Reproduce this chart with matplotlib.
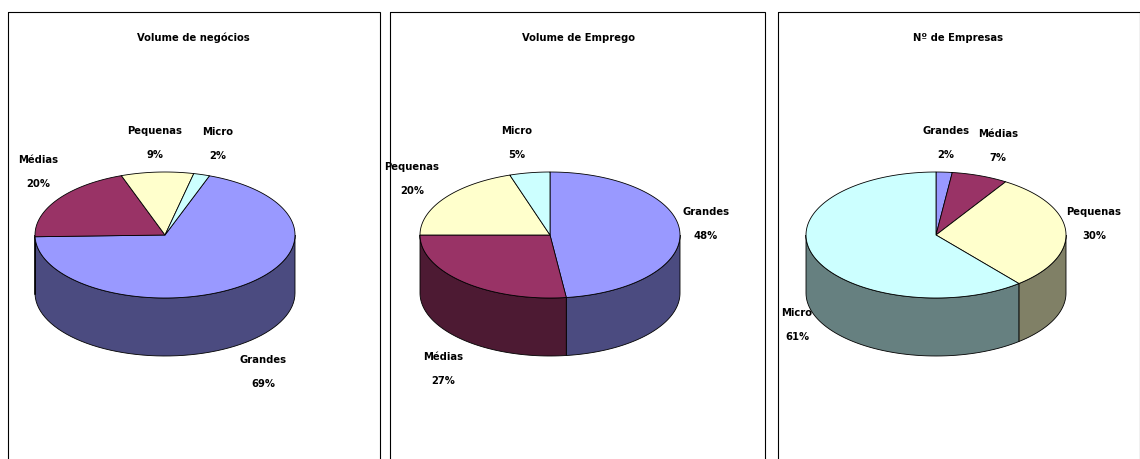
import numpy as np
import matplotlib.pyplot as plt
from matplotlib.patches import Polygon, Rectangle

titles = ['Volume de negócios', 'Volume de Emprego', 'Nº de Empresas']
categories = [['Grandes', 'Médias', 'Pequenas', 'Micro'],
              ['Grandes', 'Médias', 'Pequenas', 'Micro'],
              ['Grandes', 'Médias', 'Pequenas', 'Micro']]
values = [[69, 20, 9, 2],
          [48, 27, 20, 5],
          [2, 7, 30, 61]]
start_angles = [20, 0, 0]

top_col = {'Grandes': '#9999FF', 'Médias': '#993366', 'Pequenas': '#FFFFCC', 'Micro': '#CCFFFF'}
side_col = {'Grandes': '#4B4B80', 'Médias': '#4D1A33', 'Pequenas': '#808066', 'Micro': '#668080'}

boxes = [(8, 372), (390, 375), (778, 362)]
centers = [(165, 235), (550, 235), (936, 235)]
title_x = [193, 578, 958]
label_pos = [
    {'Grandes': (263, 360), 'Médias': (38, 160), 'Pequenas': (155, 131), 'Micro': (218, 132)},
    {'Grandes': (706, 212), 'Médias': (443, 357), 'Pequenas': (412, 167), 'Micro': (517, 131)},
    {'Grandes': (946, 131), 'Médias': (998, 134), 'Pequenas': (1094, 212), 'Micro': (797, 313)},
]
rx, ry, depth = 130, 63, 58

fig = plt.figure(figsize=(11.4, 4.59), dpi=100)
ax = fig.add_axes([0, 0, 1, 1])
ax.set_xlim(0, 1140)
ax.set_ylim(459, 0)
ax.axis('off')

font = dict(fontsize=8, fontweight='bold', fontstretch='condensed', family='DejaVu Sans')


def pt(cx, cy, a, dy=0):
    r = np.radians(a)
    return cx + rx * np.sin(r), cy - ry * np.cos(r) + dy


for i in range(3):
    x0, w = boxes[i]
    ax.add_patch(Rectangle((x0, 12), w, 470, fill=False, lw=0.8, ec='black'))
    ax.text(title_x[i], 38, titles[i], ha='center', va='center', **font)
    cx, cy = centers[i]
    a = start_angles[i]
    slices = []
    for cat, v in zip(categories[i], values[i]):
        a1 = a + v * 3.6
        slices.append((cat, a, a1))
        a = a1
    # sides (front half: 90..270 deg clockwise from top)
    for cat, a0, a1 in slices:
        for off in (0, 360):
            lo, hi = max(a0 - off, 90), min(a1 - off, 270)
            if hi <= lo:
                continue
            t = np.linspace(lo, hi, 60)
            top = [pt(cx, cy, k) for k in t]
            bot = [pt(cx, cy, k, depth) for k in t[::-1]]
            ax.add_patch(Polygon(top + bot, closed=True, fc=side_col[cat], ec='black', lw=0.6))
    # tops
    for cat, a0, a1 in slices:
        t = np.linspace(a0, a1, 120)
        poly = [(cx, cy)] + [pt(cx, cy, k) for k in t]
        ax.add_patch(Polygon(poly, closed=True, fc=top_col[cat], ec='black', lw=0.6))
    for cat, v in zip(categories[i], values[i]):
        lx, ly = label_pos[i][cat]
        ax.text(lx, ly, cat, ha='center', va='center', **font)
        ax.text(lx, ly + 24, f'{v}%', ha='center', va='center', **font)

fig.savefig('out.png', dpi=100)
